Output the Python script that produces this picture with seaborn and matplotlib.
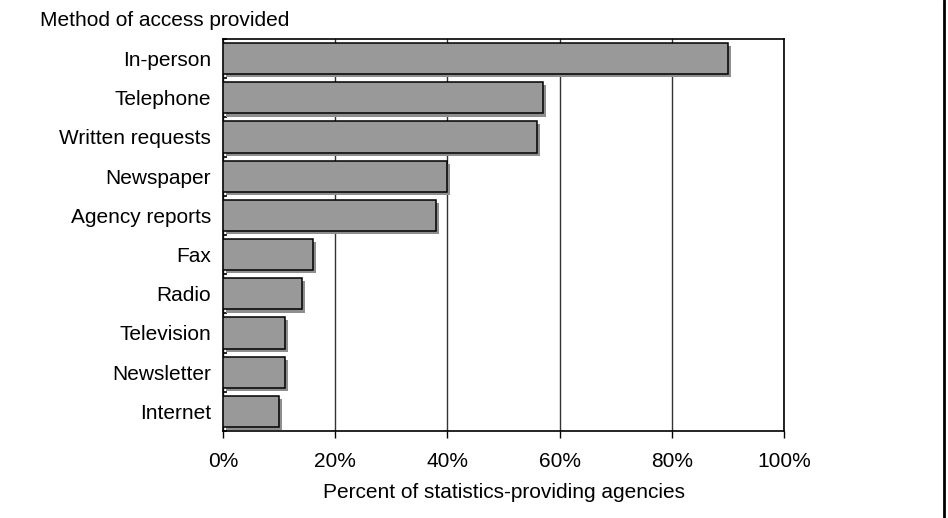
import numpy as np
import pandas as pd
import matplotlib
matplotlib.use("Agg")
import matplotlib.pyplot as plt
import matplotlib.patheffects as pe
from matplotlib.lines import Line2D
from matplotlib.ticker import FixedLocator, PercentFormatter
import seaborn as sns

# ===== DATA =====
methods = ["In-person", "Telephone", "Written requests", "Newspaper", "Agency reports",
           "Fax", "Radio", "Television", "Newsletter", "Internet"]
percents = [90, 57, 56, 40, 38, 16, 14, 11, 11, 10]
x_ticks = [0, 20, 40, 60, 80, 100]

df = pd.DataFrame({"method": methods, "pct": percents})

sns.set_style("white")
plt.rcParams["font.family"] = ["Liberation Sans", "DejaVu Sans"]
plt.rcParams["text.color"] = "black"
plt.rcParams["xtick.color"] = "black"
plt.rcParams["ytick.color"] = "black"
plt.rcParams["axes.labelcolor"] = "black"
FS = 15

fig = plt.figure(figsize=(9.48, 5.18), dpi=100)
ax = fig.add_axes([223 / 948, 1 - 431 / 518, (784 - 223) / 948, (431 - 39) / 518])

sns.barplot(data=df, x="pct", y="method", orient="h", color="#999999",
            saturation=1, width=0.8, edgecolor="black", linewidth=1.1, ax=ax, zorder=3)
for bar in ax.patches:
    bar.set_path_effects([pe.SimplePatchShadow(offset=(2.2, -2.2), shadow_rgbFace="#8e8e8e", alpha=1),
                          pe.Normal()])

ax.set_xlim(0, 100)
ax.set_ylim(len(methods) - 0.5, -0.5)
ax.xaxis.set_major_locator(FixedLocator(x_ticks))
ax.xaxis.set_major_formatter(PercentFormatter(decimals=0))
ax.grid(axis="x", color="#333333", linewidth=1, zorder=0)
ax.grid(axis="y", visible=False)

for side in ["left", "right", "top", "bottom"]:
    ax.spines[side].set_visible(True)
    ax.spines[side].set_color("black")
    ax.spines[side].set_linewidth(1.2)

ax.tick_params(axis="x", bottom=True, direction="out", length=5, width=1, labelsize=FS, pad=10)
ax.tick_params(axis="y", left=False, labelsize=FS, pad=5)
ax.set_yticks(np.arange(-0.5, len(methods)), minor=True)
ax.tick_params(axis="y", which="minor", left=True, direction="in", length=3, width=1.2)

ax.set_xlabel("Percent of statistics-providing agencies", fontsize=FS, labelpad=9)
ax.set_ylabel("")
fig.text(40 / 948, 1 - 20 / 518, "Method of access provided", fontsize=FS, va="center", ha="left")

# border line at the right edge of the image
fig.add_artist(Line2D([944 / 948, 944 / 948], [0, 1], color="black", linewidth=2, transform=fig.transFigure))

plt.savefig("out.png", dpi=100)
plt.close()
